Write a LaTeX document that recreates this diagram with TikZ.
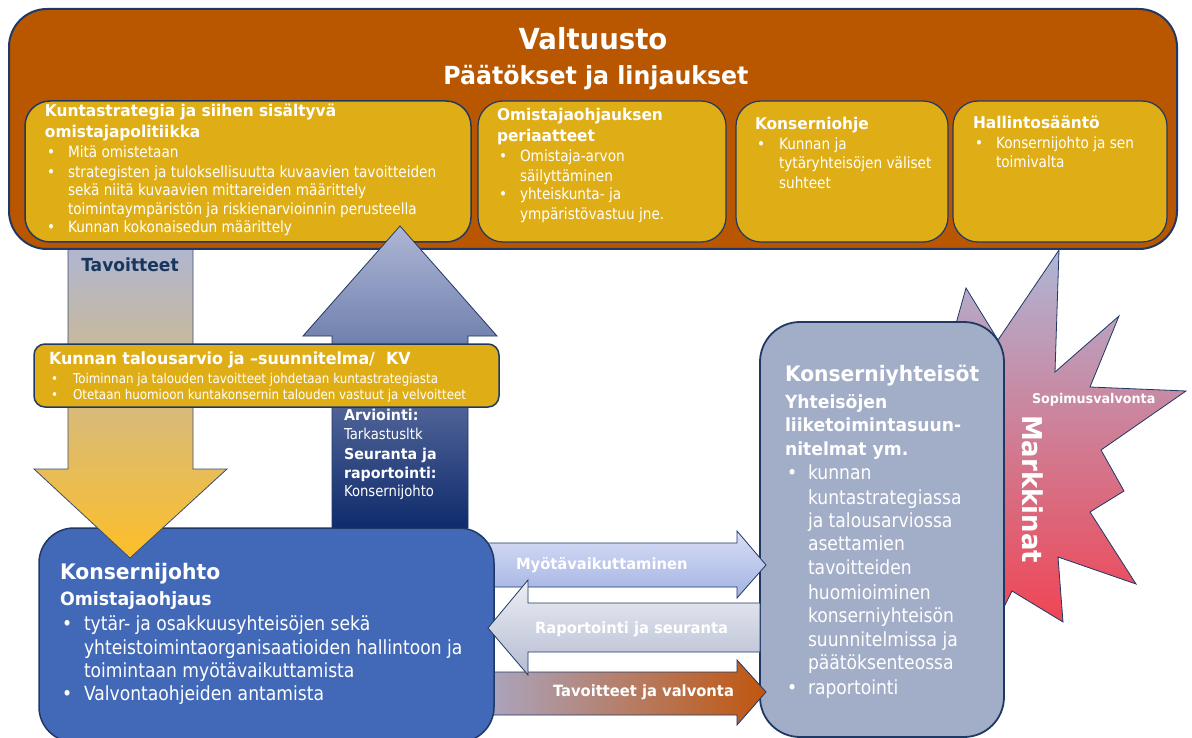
\documentclass[tikz,border=0pt]{standalone}
\usepackage{fontspec}
\setmainfont{DejaVu Sans}[FakeStretch=0.88,BoldFeatures={FakeStretch=0.95}]
\definecolor{navy}{HTML}{1F3864}
\definecolor{burnt}{HTML}{B95700}
\definecolor{gold}{HTML}{DFAE17}
\definecolor{kjblue}{HTML}{4269B7}
\definecolor{kygray}{HTML}{A2ADC7}
\definecolor{lav}{HTML}{AEB6D6}
\definecolor{ambr}{HTML}{FDBF28}
\definecolor{deepnavy}{HTML}{0F2B6C}
\definecolor{midup}{HTML}{8890B8}
\definecolor{starred}{HTML}{F43E4C}
\definecolor{starmid}{HTML}{CDA0B6}
\definecolor{myotop}{HTML}{D9DEF5}
\definecolor{myobot}{HTML}{A2B2E3}
\definecolor{raptop}{HTML}{EDEEF3}
\definecolor{rapbot}{HTML}{B4BCD3}
\definecolor{tvleft}{HTML}{A9AACB}
\definecolor{tvright}{HTML}{C0560E}
\definecolor{tavtext}{HTML}{17365D}
\newcommand\fsz[1]{\fontsize{#1pt}{#1pt}\selectfont}
\newcommand\tline[5]{\node[lbl,font=#2] (#1) at (#3,#4) {#5};}
\newcommand\bitem[6]{\node[lbl,font=#2] (#1b) at (#3,#5) {\textbullet};\node[lbl,font=#2] (#1) at (#4,#5) {#6};}
\tikzset{
  lbl/.style={anchor=west, inner sep=0pt, outer sep=0pt, text height=0.74em, text depth=0.22em, text=white},
  lblc/.style={lbl, anchor=center},
  rbox/.style={draw=navy, inner sep=0pt, outer sep=0pt},
  barrow/.style={draw=navy, line width=0.8pt, line join=miter},
}
\begin{document}
\begin{tikzpicture}[x=1pt,y=-1pt]
\useasboundingbox (0,0) rectangle (1192,738);
\fill[white] (0,0) rectangle (1192,738);

% Markkinat star
\path[barrow, top color=lav, middle color=starmid, bottom color=starred]
  (950,345) -- (966,288) -- (998,340) -- (1059,250) -- (1055,372) -- (1119,316)
  -- (1090,387) -- (1186,391) -- (1101,450) -- (1124,491) -- (1090,512)
  -- (1136,584) -- (1058,557) -- (1063,622) -- (1012,591) -- (985,645) -- cycle;

% Konserniyhteisot box
\node[rbox, line width=1.8pt, fill=kygray, rounded corners=40pt, minimum width=244pt, minimum height=415pt] (ky) at (882,529.5) {};

% horizontal arrows
\path[barrow, top color=myotop, bottom color=myobot]
  (470,543) -- (737,543) -- (737,531) -- (766,565) -- (737,598) -- (737,587) -- (470,587) -- cycle;
\path[barrow, left color=tvleft, right color=tvright]
  (470,672) -- (737,672) -- (737,660) -- (766,692) -- (737,725) -- (737,715) -- (470,715) -- cycle;

% Konsernijohto box
\node[rbox, line width=1.5pt, fill=kjblue, rounded corners=35pt, minimum width=455pt, minimum height=214pt] (kj) at (266.5,635) {};

\path[barrow, top color=raptop, bottom color=rapbot]
  (760,603) -- (528,603) -- (528,580) -- (488,628) -- (528,675) -- (528,652) -- (760,652) -- cycle;

% down arrow
\path[draw=navy!70!gray, line width=0.8pt, top color=lav, bottom color=ambr]
  (68,240) -- (193,240) -- (193,469) -- (227,469) -- (130,558) -- (34,469) -- (68,469) -- cycle;

% Valtuusto
\node[rbox, line width=2pt, fill=burnt, rounded corners=38pt, minimum width=1168pt, minimum height=240pt] (valt) at (593,129) {};
\node[rbox, line width=1.5pt, fill=gold, rounded corners=25pt, minimum width=446pt, minimum height=141pt] (b1) at (248,171.5) {};
\node[rbox, line width=1.2pt, fill=gold, rounded corners=25pt, minimum width=248pt, minimum height=141pt] (b2) at (602,171.5) {};
\node[rbox, line width=1.2pt, fill=gold, rounded corners=25pt, minimum width=212pt, minimum height=141pt] (b3) at (842,171.5) {};
\node[rbox, line width=1.2pt, fill=gold, rounded corners=25pt, minimum width=214pt, minimum height=141pt] (b4) at (1060,171.5) {};

% up arrow
\path[barrow, top color=lav, middle color=midup, bottom color=deepnavy]
  (400,226) -- (497,336) -- (468,336) -- (468,528) -- (332,528) -- (332,336) -- (303,336) -- cycle;

% talousarvio box
\node[rbox, line width=1.5pt, fill=gold, rounded corners=11pt, minimum width=465pt, minimum height=63pt] (ta) at (266.5,375.5) {};

% ---- texts ----
\node[lblc, font=\fsz{29}\bfseries] (valtt) at (593,47) {Valtuusto};
\node[lblc, font=\fsz{24.9}\bfseries] (valts) at (596,82) {Päätökset ja linjaukset};

\tline{b1t1}{\fsz{16.2}\bfseries}{45}{114}{Kuntastrategia ja siihen sisältyvä}
\tline{b1t2}{\fsz{16.2}\bfseries}{45}{135}{omistajapolitiikka}
\bitem{b1a}{\fsz{15.5}}{47}{68}{155}{Mitä omistetaan}
\bitem{b1b}{\fsz{15.5}}{47}{68}{175}{strategisten ja tuloksellisuutta kuvaavien tavoitteiden}
\tline{b1c}{\fsz{15.5}}{68}{193}{sekä niitä kuvaavien mittareiden määrittely}
\tline{b1d}{\fsz{15.5}}{68}{212}{toimintaympäristön ja riskienarvioinnin perusteella}
\bitem{b1e}{\fsz{15.5}}{47}{68}{230}{Kunnan kokonaisedun määrittely}

\tline{b2t1}{\fsz{16.2}\bfseries}{497}{118}{Omistajaohjauksen}
\tline{b2t2}{\fsz{16.2}\bfseries}{497}{139}{periaatteet}
\bitem{b2a}{\fsz{15.5}}{499}{520}{159}{Omistaja-arvon}
\tline{b2b}{\fsz{15.5}}{520}{179}{säilyttäminen}
\bitem{b2c}{\fsz{15.5}}{499}{520}{197}{yhteiskunta- ja}
\tline{b2d}{\fsz{15.5}}{520}{217}{ympäristövastuu jne.}

\tline{b3t}{\fsz{16.2}\bfseries}{755}{127}{Konserniohje}
\bitem{b3a}{\fsz{15.5}}{757}{779}{147}{Kunnan ja}
\tline{b3b}{\fsz{15.5}}{779}{166}{tytäryhteisöjen väliset}
\tline{b3c}{\fsz{15.5}}{779}{186}{suhteet}

\tline{b4t}{\fsz{16.2}\bfseries}{973}{126}{Hallintosääntö}
\bitem{b4a}{\fsz{15.5}}{975}{996}{146}{Konsernijohto ja sen}
\tline{b4b}{\fsz{15.5}}{996}{165}{toimivalta}

\node[lblc, font=\fsz{18}\bfseries, text=tavtext] (tav) at (130,269) {Tavoitteet};

\tline{tat}{\fsz{16.7}\bfseries}{49}{362}{Kunnan talousarvio ja –suunnitelma/\ \ KV}
\bitem{taa}{\fsz{13.5}}{51}{73}{381}{Toiminnan ja talouden tavoitteet johdetaan kuntastrategiasta}
\bitem{tab}{\fsz{13.5}}{51}{73}{397}{Otetaan huomioon kuntakonsernin talouden vastuut ja velvoitteet}

\tline{ua}{\fsz{15}\bfseries}{344}{418}{Arviointi:}
\tline{ub}{\fsz{15}}{344}{437}{Tarkastusltk}
\tline{uc}{\fsz{15}\bfseries}{344}{457}{Seuranta ja}
\tline{ud}{\fsz{15}\bfseries}{344}{476}{raportointi:}
\tline{ue}{\fsz{15}}{344}{494}{Konsernijohto}

\tline{kjt}{\fsz{21.4}\bfseries}{60}{577}{Konsernijohto}
\tline{kjs}{\fsz{18.3}\bfseries}{60}{603}{Omistajaohjaus}
\bitem{kja}{\fsz{19.5}}{62}{84}{628}{tytär- ja osakkuusyhteisöjen sekä}
\tline{kjb}{\fsz{19.5}}{84}{652}{yhteistoimintaorganisaatioiden hallintoon ja}
\tline{kjc}{\fsz{19.5}}{84}{675}{toimintaan myötävaikuttamista}
\bitem{kjd}{\fsz{19.5}}{62}{84}{698}{Valvontaohjeiden antamista}

\tline{kyt}{\fsz{21.3}\bfseries}{785}{379}{Konserniyhteisöt}
\tline{kys1}{\fsz{18.1}\bfseries}{785}{406}{Yhteisöjen}
\tline{kys2}{\fsz{18.1}\bfseries}{785}{429}{liiketoimintasuun-}
\tline{kys3}{\fsz{18.1}\bfseries}{785}{453}{nitelmat ym.}
\bitem{kya}{\fsz{19.5}}{787}{808}{477}{kunnan}
\tline{kyb}{\fsz{19.5}}{808}{502}{kuntastrategiassa}
\tline{kyc}{\fsz{19.5}}{808}{525}{ja talousarviossa}
\tline{kyd}{\fsz{19.5}}{808}{548}{asettamien}
\tline{kye}{\fsz{19.5}}{808}{572}{tavoitteiden}
\tline{kyf}{\fsz{19.5}}{808}{597}{huomioiminen}
\tline{kyg}{\fsz{19.5}}{808}{620}{konserniyhteisön}
\tline{kyh}{\fsz{19.5}}{808}{644}{suunnitelmissa ja}
\tline{kyi}{\fsz{19.5}}{808}{667}{päätöksenteossa}
\bitem{kyj}{\fsz{19.5}}{787}{808}{692}{raportointi}

\tline{myo}{\fsz{15.5}\bfseries}{516}{567}{Myötävaikuttaminen}
\tline{rap}{\fsz{15.5}\bfseries}{535}{631}{Raportointi ja seuranta}
\tline{tvv}{\fsz{15.5}\bfseries}{553}{694}{Tavoitteet ja valvonta}

\tline{sop}{\fsz{13.4}\bfseries}{1032}{401}{Sopimusvalvonta}
\node[lblc, font=\fsz{27.3}\bfseries, rotate=-90] (mark) at (1025,489) {Markkinat};
\end{tikzpicture}
\end{document}
